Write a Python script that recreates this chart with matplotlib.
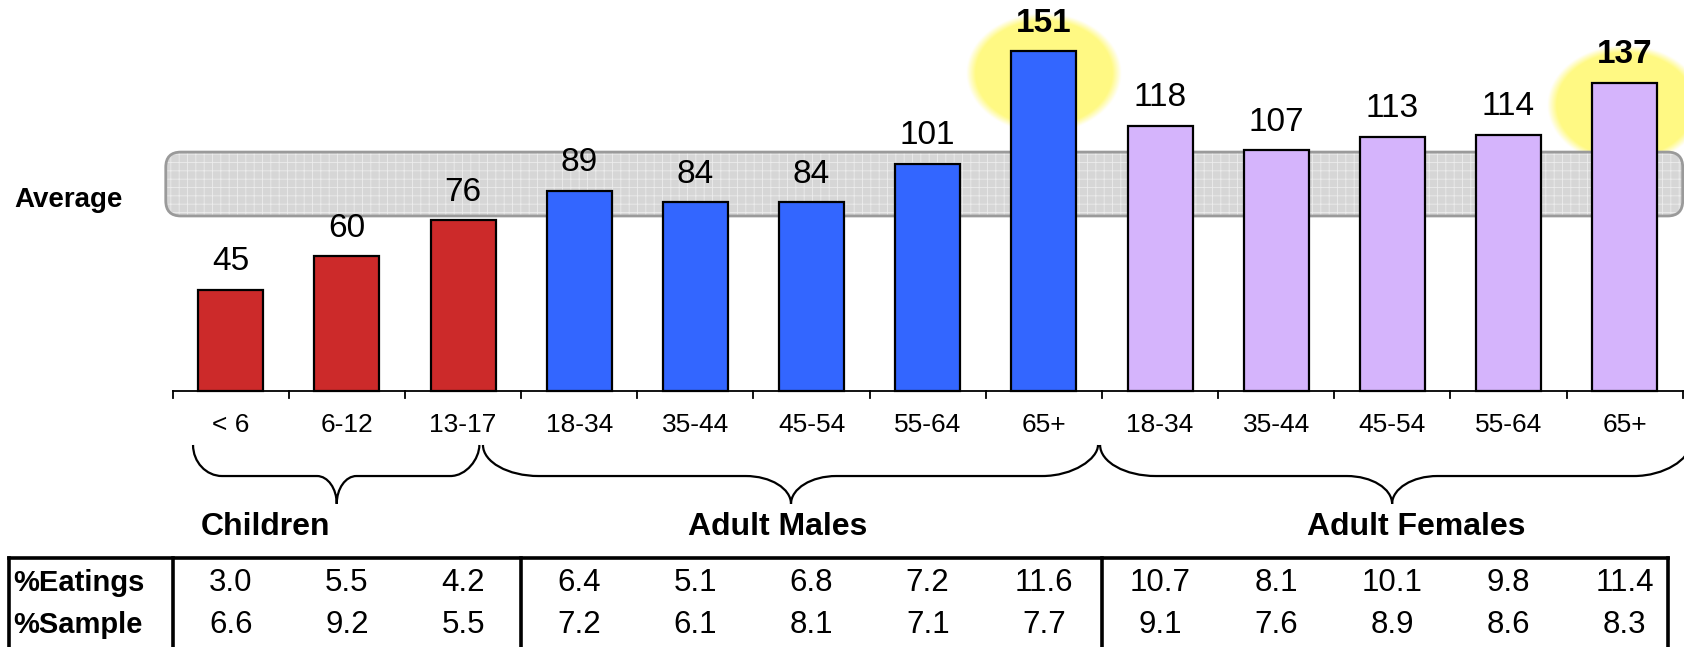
import numpy as np
import matplotlib
matplotlib.use('Agg')
import matplotlib.pyplot as plt
from matplotlib import font_manager
from matplotlib.patches import FancyBboxPatch, PathPatch
from matplotlib.path import Path

# Дані
age_groups = ['< 6', '6-12', '13-17',
              '18-34', '35-44', '45-54', '55-64', '65+',
              '18-34', '35-44', '45-54', '55-64', '65+']
index_values = [45, 60, 76, 89, 84, 84, 101, 151, 118, 107, 113, 114, 137]
group_names = ['Children', 'Adult Males', 'Adult Females']
group_sizes = [3, 5, 5]
group_colors = ['#cc2a2a', '#3366ff', '#d5b4fc']
pct_eatings = [3.0, 5.5, 4.2, 6.4, 5.1, 6.8, 7.2, 11.6, 10.7, 8.1, 10.1, 9.8, 11.4]
pct_sample = [6.6, 9.2, 5.5, 7.2, 6.1, 8.1, 7.1, 7.7, 9.1, 7.6, 8.9, 8.6, 8.3]
highlight = [7, 12]
avg_low, avg_high = 77.8, 106.2

# вузький шрифт для таблиці, якщо є
installed = {f.name for f in font_manager.fontManager.ttflist}
regular = ['Liberation Sans', 'DejaVu Sans']
if 'Liberation Sans Narrow' in installed:
    narrow = ['Liberation Sans Narrow'] + regular
    table_size = 24
else:
    narrow = regular
    table_size = 22.5

fig = plt.figure(figsize=(16.84, 6.47), dpi=100)
ax = fig.add_axes([0, 0, 1, 1])
ax.axis('off')

x = np.arange(len(index_values))
colors = []
for c, n in zip(group_colors, group_sizes):
    colors += [c] * n

# Підсвітка (жовте сяйво) навколо виділених стовпців
nx, ny = 240, 240
u, v = np.meshgrid(np.linspace(-1, 1, nx), np.linspace(-1, 1, ny))
r = np.sqrt(u ** 2 + v ** 2)
glow = np.zeros((ny, nx, 4))
glow[..., 0] = 1.0
glow[..., 1] = 0.975
glow[..., 2] = 0.38
glow[..., 3] = np.clip((1 - r) / 0.12, 0, 1) * 0.78
for i in highlight:
    cy = index_values[i] - 10
    ax.imshow(glow, extent=(x[i] - 0.67, x[i] + 0.67, cy - 26.5, cy + 26.5),
              aspect='auto', interpolation='bilinear', zorder=1)

# Смуга "Average"
band_kw = dict(boxstyle='round,pad=0,rounding_size=0.13', mutation_aspect=52)
band = FancyBboxPatch((-0.56, avg_low), 13.06, avg_high - avg_low,
                      facecolor='#d6d6d6', edgecolor='none', zorder=2, **band_kw)
ax.add_patch(band)
plt.rcParams['hatch.linewidth'] = 0.6
texture = FancyBboxPatch((-0.56, avg_low), 13.06, avg_high - avg_low,
                         facecolor='none', edgecolor='#ececec', linewidth=0,
                         hatch='++', zorder=2.1, **band_kw)
ax.add_patch(texture)
border = FancyBboxPatch((-0.56, avg_low), 13.06, avg_high - avg_low,
                        facecolor='none', edgecolor='#9a9a9a', linewidth=2,
                        zorder=2.2, **band_kw)
ax.add_patch(border)
ax.text(-1.40, (avg_low + avg_high) / 2 - 7, 'Average', ha='center', va='center',
        fontsize=20, fontweight='bold', family=narrow)

# Стовпці
ax.bar(x, index_values, width=0.56, color=colors, edgecolor='black',
       linewidth=1.6, zorder=3)

for i, val in enumerate(index_values):
    ax.annotate(str(val), (x[i], val), xytext=(0, 14), textcoords='offset points',
                ha='center', va='baseline', fontsize=24,
                fontweight='bold' if i in highlight else 'normal',
                family=regular, zorder=5)

# Вісь з поділками між категоріями
ax.plot([-0.5, 12.5], [0, 0], color='black', linewidth=1.3, zorder=4)
for b in np.arange(-0.5, 13, 1.0):
    ax.plot([b, b], [0, -3.2], color='black', linewidth=1.3, zorder=4)
for i, lab in enumerate(age_groups):
    ax.text(x[i], -15, lab, ha='center', va='center', fontsize=19, family=regular)


# Фігурні дужки під групами
def brace(x0, x1, xm, r_end, r_mid, y_top=-24, y_flat=-37.8, y_point=-50.2):
    k = 0.55
    verts = [
        (x0, y_top),
        (x0, y_top - k * (y_top - y_flat)), (x0 + r_end - k * r_end, y_flat), (x0 + r_end, y_flat),
        (xm - r_mid, y_flat),
        (xm - r_mid + k * r_mid, y_flat), (xm, y_point + k * (y_flat - y_point)), (xm, y_point),
        (xm, y_point + k * (y_flat - y_point)), (xm + r_mid - k * r_mid, y_flat), (xm + r_mid, y_flat),
        (x1 - r_end, y_flat),
        (x1 - r_end + k * r_end, y_flat), (x1, y_flat + k * (y_top - y_flat)), (x1, y_top),
    ]
    codes = [Path.MOVETO] + [Path.CURVE4] * 3 + [Path.LINETO] + [Path.CURVE4] * 6 \
        + [Path.LINETO] + [Path.CURVE4] * 3
    ax.add_patch(PathPatch(Path(verts, codes), facecolor='none', edgecolor='black',
                           linewidth=1.6, zorder=4))


brace(-0.325, 2.14, 0.912, 0.25, 0.17)
brace(2.171, 7.466, 4.823, 0.48, 0.39)
brace(7.484, 12.56, 9.998, 0.48, 0.39)

group_label_x = [0.295, 4.71, 10.21]
for gx, name in zip(group_label_x, group_names):
    ax.text(gx, -60.4, name, ha='center', va='center', fontsize=23,
            fontweight='bold', family=narrow)

# Таблиця під графіком
y_top_tab = -74.2
y_bottom = -113.8
row_y = [-85.3, -104.0]
ax.plot([-1.91, 12.37], [y_top_tab, y_top_tab], color='black', linewidth=2.6, zorder=4)
for vx in [-1.91, -0.5, 2.5, 7.5, 12.37]:
    ax.plot([vx, vx], [y_top_tab, y_bottom], color='black', linewidth=2.6, zorder=4)

ax.text(-1.875, row_y[0], '%Eatings', ha='left', va='center', fontsize=21,
        fontweight='bold', family=narrow)
ax.text(-1.875, row_y[1], '%Sample', ha='left', va='center', fontsize=21,
        fontweight='bold', family=narrow)
for i in range(len(x)):
    ax.text(x[i], row_y[0], f'{pct_eatings[i]:.1f}', ha='center', va='center',
            fontsize=table_size, family=narrow)
    ax.text(x[i], row_y[1], f'{pct_sample[i]:.1f}', ha='center', va='center',
            fontsize=table_size, family=narrow)

ax.set_xlim(-1.987, 12.511)
ax.set_ylim(-113.8, 173.8)

fig.savefig('out.png', dpi=100)
